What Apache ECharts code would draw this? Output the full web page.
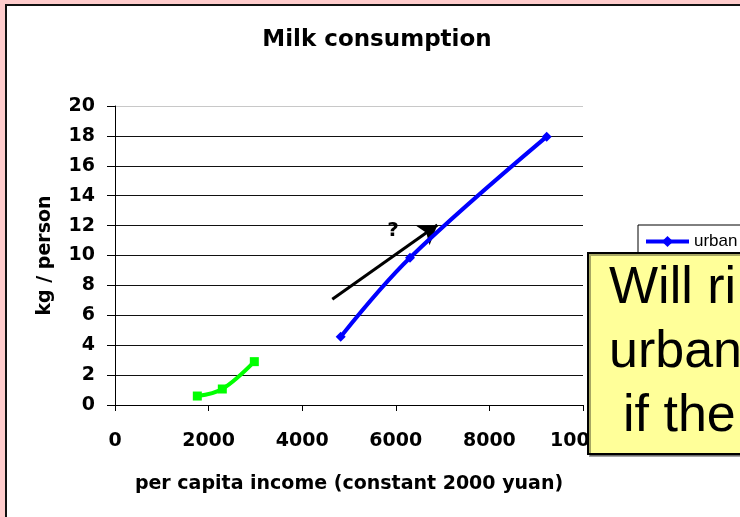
<!DOCTYPE html>
<html>
<head>
<meta charset="utf-8">
<script src="https://cdn.jsdelivr.net/npm/echarts@6/dist/echarts.min.js"></script>
<style>html,body{margin:0;padding:0;background:#FFCCCC;}#c{width:740px;height:517px;}</style>
</head>
<body>
<div id="c"></div>
<script>
// ---- data ----
const titleText = 'Milk consumption';
const xAxisTitle = 'per capita income (constant 2000 yuan)';
const yAxisTitle = 'kg / person';
const urbanIncome = [4823, 6303, 9224];
const urbanMilk = [4.57, 9.85, 17.95];
const ruralIncome = [1759, 2293, 2977];
const ruralMilk = [0.60, 1.07, 2.90];
const arrowStart = [4643, 7.07];
const arrowEnd = [6887, 12.04];
const questionPos = [5940, 11.64];
const questionText = '?';
const calloutLines = ['Will ri', 'urban', 'if the'];
const xMin = 0, xMax = 10000, xStep = 2000;
const yMin = 0, yMax = 20, yStep = 2;

const zip = (a, b) => a.map((v, i) => [v, b[i]]);
const chart = echarts.init(document.getElementById('c'), null, {renderer: 'canvas'});
const boldFont = 'DejaVu Sans';
const gridColors = [];
for (let v = yMin; v <= yMax; v += yStep) gridColors.push(v === yMax ? '#c8c8c8' : '#111');

chart.setOption({
  animation: false,
  backgroundColor: '#FFCCCC',
  title: {
    text: titleText, left: 377, top: 29, padding: 0, textAlign: 'center',
    textStyle: {fontFamily: boldFont, fontWeight: 'bold', fontSize: 23, color: '#000'}
  },
  legend: {
    data: ['urban', 'rural'], orient: 'vertical', left: 638, top: 225,
    padding: [8, 60, 8, 6], itemWidth: 43, itemHeight: 14, itemGap: 10,
    backgroundColor: '#fff', borderColor: '#000', borderWidth: 1, borderRadius: 0,
    lineStyle: {width: 4},
    textStyle: {fontFamily: 'Liberation Sans', fontSize: 17, color: '#000'}
  },
  grid: {left: 115, right: 157, top: 106, bottom: 112, containLabel: false, outerBoundsMode: 'none'},
  xAxis: {
    type: 'value', min: xMin, max: xMax, interval: xStep,
    name: xAxisTitle, nameLocation: 'middle', nameGap: 70, nameMoveOverlap: false,
    nameTextStyle: {fontFamily: boldFont, fontWeight: 'bold', fontSize: 19, color: '#000'},
    axisLine: {show: true, lineStyle: {color: '#000', width: 1}},
    axisTick: {show: true, inside: false, length: 6, lineStyle: {color: '#000'}},
    axisLabel: {margin: 27, fontFamily: boldFont, fontWeight: 'bold', fontSize: 19, color: '#000',
                formatter: v => String(v)},
    splitLine: {show: false}
  },
  yAxis: {
    type: 'value', min: yMin, max: yMax, interval: yStep,
    name: yAxisTitle, nameLocation: 'middle', nameGap: 60, nameRotate: 90, nameMoveOverlap: false,
    nameTextStyle: {fontFamily: boldFont, fontWeight: 'bold', fontSize: 19, color: '#000'},
    axisLine: {show: true, lineStyle: {color: '#000', width: 1}},
    axisTick: {show: true, inside: false, length: 8, lineStyle: {color: '#000'}},
    axisLabel: {margin: 20, fontFamily: boldFont, fontWeight: 'bold', fontSize: 19, color: '#000',
                formatter: v => String(v)},
    splitLine: {show: true, lineStyle: {color: gridColors, width: 1}}
  },
  series: [
    {
      name: 'urban', type: 'line', data: zip(urbanIncome, urbanMilk), smooth: 0.35,
      symbol: 'diamond', symbolSize: 10, z: 5,
      lineStyle: {color: '#0000FF', width: 4}, itemStyle: {color: '#0000FF'},
      markLine: {
        silent: true, symbol: ['none', 'arrow'], symbolSize: 18, animation: false,
        label: {show: false},
        lineStyle: {color: '#000', width: 3, type: 'solid'},
        data: [[{coord: arrowStart}, {coord: arrowEnd}]]
      },
      markPoint: {
        silent: true, symbol: 'rect', symbolSize: 1, itemStyle: {color: 'rgba(0,0,0,0)'},
        label: {show: true, position: 'inside', formatter: questionText,
                fontFamily: boldFont, fontWeight: 'bold', fontSize: 20, color: '#000'},
        data: [{coord: questionPos}]
      }
    },
    {
      name: 'rural', type: 'line', data: zip(ruralIncome, ruralMilk), smooth: 0.35,
      symbol: 'rect', symbolSize: 9, z: 5,
      lineStyle: {color: '#00FF00', width: 4}, itemStyle: {color: '#00FF00'}
    }
  ],
  graphic: [
    {type: 'rect', z: -10, shape: {x: 6, y: 5, width: 900, height: 900},
     style: {fill: '#fff', stroke: '#111', lineWidth: 2}, silent: true},
    {type: 'rect', z: 100, shape: {x: 588, y: 253, width: 200, height: 201},
     style: {fill: '#FFFF99', stroke: '#000', lineWidth: 2,
             shadowColor: 'rgba(0,0,0,0.35)', shadowOffsetX: 2, shadowOffsetY: 2, shadowBlur: 0}, silent: true},
    {type: 'text', z: 101, x: 609, y: 289, style: {text: calloutLines[0], fontFamily: 'Liberation Sans', fontSize: 52, fill: '#000', verticalAlign: 'middle'}},
    {type: 'text', z: 101, x: 609, y: 353, style: {text: calloutLines[1], fontFamily: 'Liberation Sans', fontSize: 52, fill: '#000', verticalAlign: 'middle'}},
    {type: 'text', z: 101, x: 623, y: 417, style: {text: calloutLines[2], fontFamily: 'Liberation Sans', fontSize: 52, fill: '#000', verticalAlign: 'middle'}}
  ]
});
</script>
</body>
</html>
